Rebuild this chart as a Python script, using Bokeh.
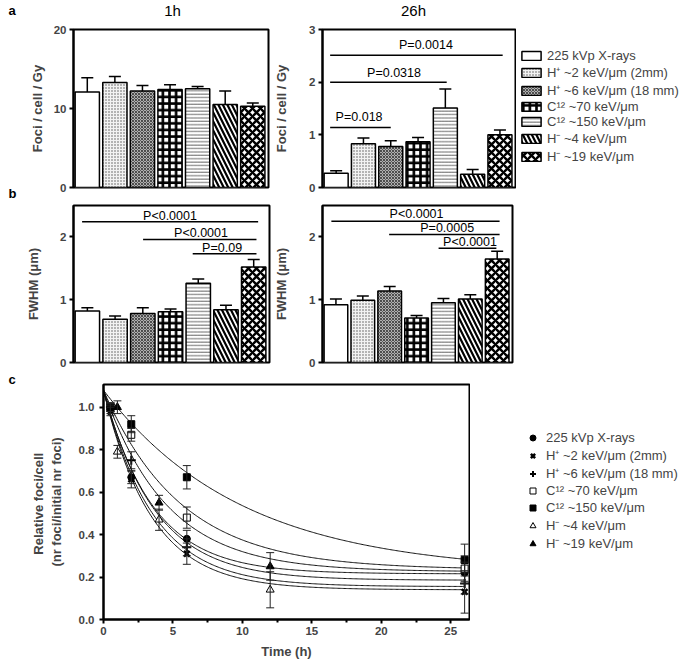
import numpy as np
from bokeh.plotting import figure
from bokeh.layouts import column, row
from bokeh.models import (Range1d, FixedTicker, Legend, LegendItem, Whisker,
                          TeeHead, ColumnDataSource, NumeralTickFormatter)
from bokeh.core.properties import value
from bokeh.embed import file_html
from bokeh.resources import INLINE

FONT = "Liberation Sans"

# ---------------- data ----------------
groups = ["225 kVp X-rays", "H\u207a ~2 keV/\u03bcm (2mm)", "H\u207a ~6 keV/\u03bcm (18 mm)",
          "C\u00b9\u00b2 ~70 keV/\u03bcm", "C\u00b9\u00b2 ~150 keV/\u03bcm",
          "H\u207b ~4 keV/\u03bcm", "H\u207b ~19 keV/\u03bcm"]
bar_pos = [1, 2, 3, 4, 5, 6, 7]

foci_1h = [12.1, 13.3, 12.2, 12.4, 12.5, 10.5, 10.3]
foci_1h_err = [1.8, 0.75, 0.7, 0.6, 0.3, 1.7, 0.4]
foci_26h = [0.27, 0.83, 0.78, 0.87, 1.51, 0.25, 1.0]
foci_26h_err = [0.05, 0.11, 0.11, 0.08, 0.36, 0.09, 0.09]
fwhm_1h = [0.82, 0.69, 0.78, 0.81, 1.26, 0.84, 1.52]
fwhm_1h_err = [0.05, 0.05, 0.09, 0.04, 0.07, 0.07, 0.12]
fwhm_26h = [0.92, 0.99, 1.14, 0.71, 0.95, 1.01, 1.65]
fwhm_26h_err = [0.09, 0.07, 0.07, 0.04, 0.07, 0.07, 0.12]

sig_a26_x0 = [0.78, 0.78, 0.78]
sig_a26_x1 = [3.0, 5.05, 7.1]
sig_a26_y = [1.14, 2.0, 2.51]
sig_a26_text = ["P=0.018", "P=0.0318", "P=0.0014"]
sig_a26_tx = [1.84, 3.12, 4.29]
sig_a26_ty = [1.33, 2.18, 2.70]

sig_b1_x0 = [0.81, 3.01, 4.8]
sig_b1_x1 = [7.16, 7.1, 7.1]
sig_b1_y = [2.24, 1.96, 1.73]
sig_b1_text = ["P<0.0001", "P<0.0001", "P=0.09"]
sig_b1_tx = [3.98, 5.1, 5.86]
sig_b1_ty = [2.33, 2.06, 1.83]

sig_b26_x0 = [0.83, 2.98, 4.82]
sig_b26_x1 = [7.09, 7.09, 6.97]
sig_b26_y = [2.25, 2.04, 1.82]
sig_b26_text = ["P<0.0001", "P=0.0005", "P<0.0001"]
sig_b26_tx = [4.0, 5.14, 5.99]
sig_b26_ty = [2.37, 2.14, 1.92]

# (c) relative foci kinetics
t_main = [0.5, 2, 6, 26]
t_hneg = [1, 4, 12]
rel_xray = [0.99, 0.67, 0.38, 0.22]
rel_xray_err = [0.02, 0.03, 0.04, 0.05]
rel_h2 = [0.98, 0.66, 0.31, 0.13]
rel_h2_err = [0.02, 0.04, 0.05, 0.10]
rel_h6 = [1.0, 0.75, 0.34, 0.17]
rel_h6_err = [0.02, 0.04, 0.04, 0.05]
rel_c70 = [1.0, 0.87, 0.48, 0.24]
rel_c70_err = [0.02, 0.03, 0.05, 0.06]
rel_c150 = [1.0, 0.92, 0.67, 0.28]
rel_c150_err = [0.02, 0.04, 0.055, 0.075]
rel_h4 = [0.79, 0.47, 0.14]
rel_h4_err = [0.03, 0.05, 0.085]
rel_h19 = [1.0, 0.55, 0.25]
rel_h19_err = [0.03, 0.035, 0.065]

# one-phase decay fits (start, plateau, rate per hour)
fit_start = [1.08, 1.08, 1.08, 1.08, 1.08, 1.08, 1.08]
fit_plateau = [0.215, 0.14, 0.185, 0.235, 0.22, 0.155, 0.225]
fit_rate = [0.28, 0.29, 0.27, 0.18, 0.10, 0.28, 0.22]

panel_letters = ["a", "b", "c"]
time_titles = ["1h", "26h"]

# layout positions (page pixels) for the free-standing texts
letter_x = [8, 8, 8]
letter_y = [10, 193, 379]
title_x = [172, 413]
title_y = [10, 10]

# ---------------- styles ----------------
bar_styles = [
    dict(fill_color="white", hatch_pattern=" "),
    dict(fill_color="#f2f2f2", hatch_pattern=".", hatch_scale=3, hatch_weight=0.55, hatch_color="#555555"),
    dict(fill_color="#b0b0b0", hatch_pattern="x", hatch_scale=3, hatch_weight=0.7, hatch_color="#222222"),
    dict(fill_color="white", hatch_pattern="+", hatch_scale=6.6, hatch_weight=2.6, hatch_color="black"),
    dict(fill_color="white", hatch_pattern="-", hatch_scale=3.4, hatch_weight=0.9, hatch_color="#555555"),
    dict(fill_color="white", hatch_pattern="\\", hatch_scale=9, hatch_weight=2.2, hatch_color="black"),
    dict(fill_color="white", hatch_pattern="x", hatch_scale=8, hatch_weight=2.4, hatch_color="black"),
]
marker_styles = [
    dict(marker="circle", size=7, fill_color="black", line_color="black", line_width=1),
    dict(marker="x", size=8, fill_color="black", line_color="black", line_width=2.5),
    dict(marker="cross", size=9, fill_color="black", line_color="black", line_width=2),
    dict(marker="square", size=7, fill_color="white", line_color="black", line_width=1),
    dict(marker="square", size=7, fill_color="black", line_color="black", line_width=1),
    dict(marker="triangle", size=8, fill_color="white", line_color="black", line_width=1),
    dict(marker="triangle", size=8, fill_color="black", line_color="black", line_width=1),
]


def blank_fig(width, height, xr, yr, mbl=0, mbt=0, mbb=0):
    p = figure(width=width, height=height, x_range=Range1d(*xr), y_range=Range1d(*yr),
               output_backend="svg", toolbar_location=None, min_border=0,
               min_border_left=mbl, min_border_top=mbt, min_border_bottom=mbb)
    p.axis.visible = False
    p.grid.visible = False
    p.outline_line_color = None
    return p


def bar_fig(width, height, mbl, mbr, mbt, mbb, y_end, ticks, ylabel, label_standoff):
    p = figure(width=width, height=height, x_range=Range1d(0.5, 7.57), y_range=Range1d(0, y_end),
               output_backend="svg", toolbar_location=None,
               min_border_left=mbl, min_border_right=mbr, min_border_top=mbt, min_border_bottom=mbb)
    p.xaxis.visible = False
    p.xgrid.visible = False
    p.ygrid.visible = False
    p.outline_line_color = "black"
    p.outline_line_width = 2
    p.outline_line_alpha = 1
    ax = p.yaxis[0]
    ax.ticker = FixedTicker(ticks=ticks)
    ax.axis_label = ylabel
    ax.axis_label_text_font = FONT
    ax.axis_label_text_font_size = "13px"
    ax.axis_label_text_font_style = "bold"
    ax.axis_label_standoff = label_standoff
    ax.major_label_text_font = FONT
    ax.major_label_text_font_size = "11.5px"
    ax.major_label_text_font_style = "bold"
    ax.major_label_standoff = 3
    ax.axis_line_width = 2
    ax.major_tick_line_width = 2
    ax.major_tick_out = 4
    ax.major_tick_in = 0
    ax.minor_tick_line_color = None
    return p


def draw_bars(p, vals, errs):
    for i in range(len(bar_pos)):
        p.vbar(x=[bar_pos[i]], top=[vals[i]], bottom=0, width=0.88,
               line_color="black", line_width=1.5, **bar_styles[i])
    src = ColumnDataSource(dict(x=bar_pos, lower=vals, upper=[v + e for v, e in zip(vals, errs)]))
    p.add_layout(Whisker(source=src, base="x", lower="lower", upper="upper", dimension="height",
                         lower_head=None,
                         upper_head=TeeHead(size=12, line_width=1.5, line_color="black"),
                         line_width=1.5, line_color="black"))


def draw_sig(p, x0, x1, y, text, tx, ty):
    p.segment(x0=x0, y0=y, x1=x1, y1=y, line_color="black", line_width=1.5)
    p.text(x=tx, y=ty, text=text, text_align="center", text_baseline="middle",
           text_font=value(FONT), text_font_size="12.5px", text_color="black")


# ---------------- free texts ----------------
letters_fig = blank_fig(20, 662, (0, 20), (662, 0))
letters_fig.text(x=letter_x, y=letter_y, text=panel_letters, text_align="left", text_baseline="middle",
                 text_font=value(FONT), text_font_size="13px", text_font_style="bold", text_color="black")

titles_fig = blank_fig(665, 20, (20, 685), (20, 0))
titles_fig.text(x=title_x, y=title_y, text=time_titles, text_align="center", text_baseline="middle",
                text_font=value(FONT), text_font_size="15px", text_color="black")

# ---------------- panel a ----------------
a1 = bar_fig(251, 180, 53, 3, 9, 13, 20, [0, 10, 20], "Foci / cell / Gy", 6)
draw_bars(a1, foci_1h, foci_1h_err)

a2 = bar_fig(245, 180, 51, 1, 9, 13, 3, [0, 1, 2, 3], "Foci / cell / Gy", 17)
draw_bars(a2, foci_26h, foci_26h_err)
draw_sig(a2, sig_a26_x0, sig_a26_x1, sig_a26_y, sig_a26_text, sig_a26_tx, sig_a26_ty)

# legend for the bar panels (key glyphs share the bar styles; hidden renderers)
# same top/bottom borders as the bar panels (frames of a row are aligned)
leg_a_fig = blank_fig(169, 180, (0, 1), (0, 1), mbl=0, mbt=9, mbb=13)
leg_a_items = []
for i in range(len(groups)):
    r = leg_a_fig.vbar(x=[bar_pos[i]], top=[foci_26h[i]], width=0.88, line_color="black",
                       line_width=1.5, visible=False, **bar_styles[i])
    leg_a_items.append(LegendItem(label=groups[i], renderers=[r]))
leg_a_fig.add_layout(Legend(items=leg_a_items, location=(3, 22), glyph_width=24, glyph_height=11,
                            label_height=13, spacing=0, padding=0, margin=0,
                            border_line_color=None, background_fill_alpha=0,
                            label_text_font=FONT, label_text_font_size="13px", label_standoff=4))

# ---------------- panel b ----------------
b1 = bar_fig(251, 168, 53, 2, 5, 6, 2.5, [0, 1, 2], "FWHM (\u03bcm)", 16)
draw_bars(b1, fwhm_1h, fwhm_1h_err)
draw_sig(b1, sig_b1_x0, sig_b1_x1, sig_b1_y, sig_b1_text, sig_b1_tx, sig_b1_ty)

b2 = bar_fig(243, 168, 51, 2, 5, 6, 2.5, [0, 1, 2], "FWHM (\u03bcm)", 17)
draw_bars(b2, fwhm_26h, fwhm_26h_err)
draw_sig(b2, sig_b26_x0, sig_b26_x1, sig_b26_y, sig_b26_text, sig_b26_tx, sig_b26_ty)

# ---------------- panel c ----------------
pc = figure(width=450, height=294, x_range=Range1d(0, 26.35), y_range=Range1d(0, 1.107),
            output_backend="svg", toolbar_location=None,
            min_border_left=83, min_border_right=1, min_border_top=16, min_border_bottom=43)
pc.xgrid.visible = False
pc.ygrid.visible = False
pc.outline_line_color = "black"
pc.outline_line_width = 2
pc.outline_line_alpha = 1
for ax in (pc.xaxis[0], pc.yaxis[0]):
    ax.axis_label_text_font = FONT
    ax.axis_label_text_font_size = "13px"
    ax.axis_label_text_font_style = "bold"
    ax.major_label_text_font = FONT
    ax.major_label_text_font_size = "11.5px"
    ax.major_label_text_font_style = "bold"
    ax.axis_line_width = 2
    ax.major_tick_line_width = 2
    ax.major_tick_out = 4
    ax.major_tick_in = 0
    ax.minor_tick_line_width = 2
    ax.minor_tick_out = 3
    ax.minor_tick_in = 0
pc.xaxis[0].ticker = FixedTicker(ticks=[0, 5, 10, 15, 20, 25], minor_ticks=[2.5, 7.5, 12.5, 17.5, 22.5])
pc.xaxis[0].axis_label = "Time (h)"
pc.xaxis[0].major_label_standoff = 3
pc.xaxis[0].axis_label_standoff = 6
pc.yaxis[0].ticker = FixedTicker(ticks=[0, 0.2, 0.4, 0.6, 0.8, 1.0])
pc.yaxis[0].formatter = NumeralTickFormatter(format="0.0")
pc.yaxis[0].minor_tick_line_color = None
pc.yaxis[0].axis_label = "Relative  foci/cell\n(nr foci/initial nr foci)"
pc.yaxis[0].axis_label_standoff = 12

series_t = [t_main, t_main, t_main, t_main, t_main, t_hneg, t_hneg]
series_y = [rel_xray, rel_h2, rel_h6, rel_c70, rel_c150, rel_h4, rel_h19]
series_e = [rel_xray_err, rel_h2_err, rel_h6_err, rel_c70_err, rel_c150_err, rel_h4_err, rel_h19_err]

t_fit = np.linspace(0, 26, 300)
for i in range(len(groups)):
    y_fit = fit_plateau[i] + (fit_start[i] - fit_plateau[i]) * np.exp(-fit_rate[i] * t_fit)
    pc.line(t_fit, y_fit, line_color="#111111", line_width=1)

for i in range(len(groups)):
    src = ColumnDataSource(dict(t=series_t[i], y=series_y[i],
                                lo=[a - b for a, b in zip(series_y[i], series_e[i])],
                                hi=[a + b for a, b in zip(series_y[i], series_e[i])]))
    pc.add_layout(Whisker(source=src, base="t", lower="lo", upper="hi", dimension="height",
                          lower_head=TeeHead(size=8, line_width=1, line_color="#222222"),
                          upper_head=TeeHead(size=8, line_width=1, line_color="#222222"),
                          line_width=1, line_color="#222222", level="glyph"))
    pc.scatter(x="t", y="y", source=src, **marker_styles[i])

# same top/bottom borders as panel c (frames of a row are aligned); legend offset by margin
leg_c_fig = blank_fig(215, 294, (0, 1), (0, 1), mbl=10, mbt=16, mbb=43)
leg_c_items = []
for i in range(len(groups)):
    r = leg_c_fig.scatter(x=series_t[i], y=series_y[i], visible=False, **marker_styles[i])
    leg_c_items.append(LegendItem(label=groups[i], renderers=[r]))
leg_c_fig.add_layout(Legend(items=leg_c_items, location="top_left", glyph_width=15, glyph_height=17,
                            label_height=15, spacing=0, padding=0, margin=45,
                            border_line_color=None, background_fill_alpha=0,
                            label_text_font=FONT, label_text_font_size="13px", label_standoff=6))

layout = row(letters_fig,
             column(titles_fig, row(a1, a2, leg_a_fig), row(b1, b2), row(pc, leg_c_fig)))
open("out.html", "w").write(file_html(layout, INLINE))
